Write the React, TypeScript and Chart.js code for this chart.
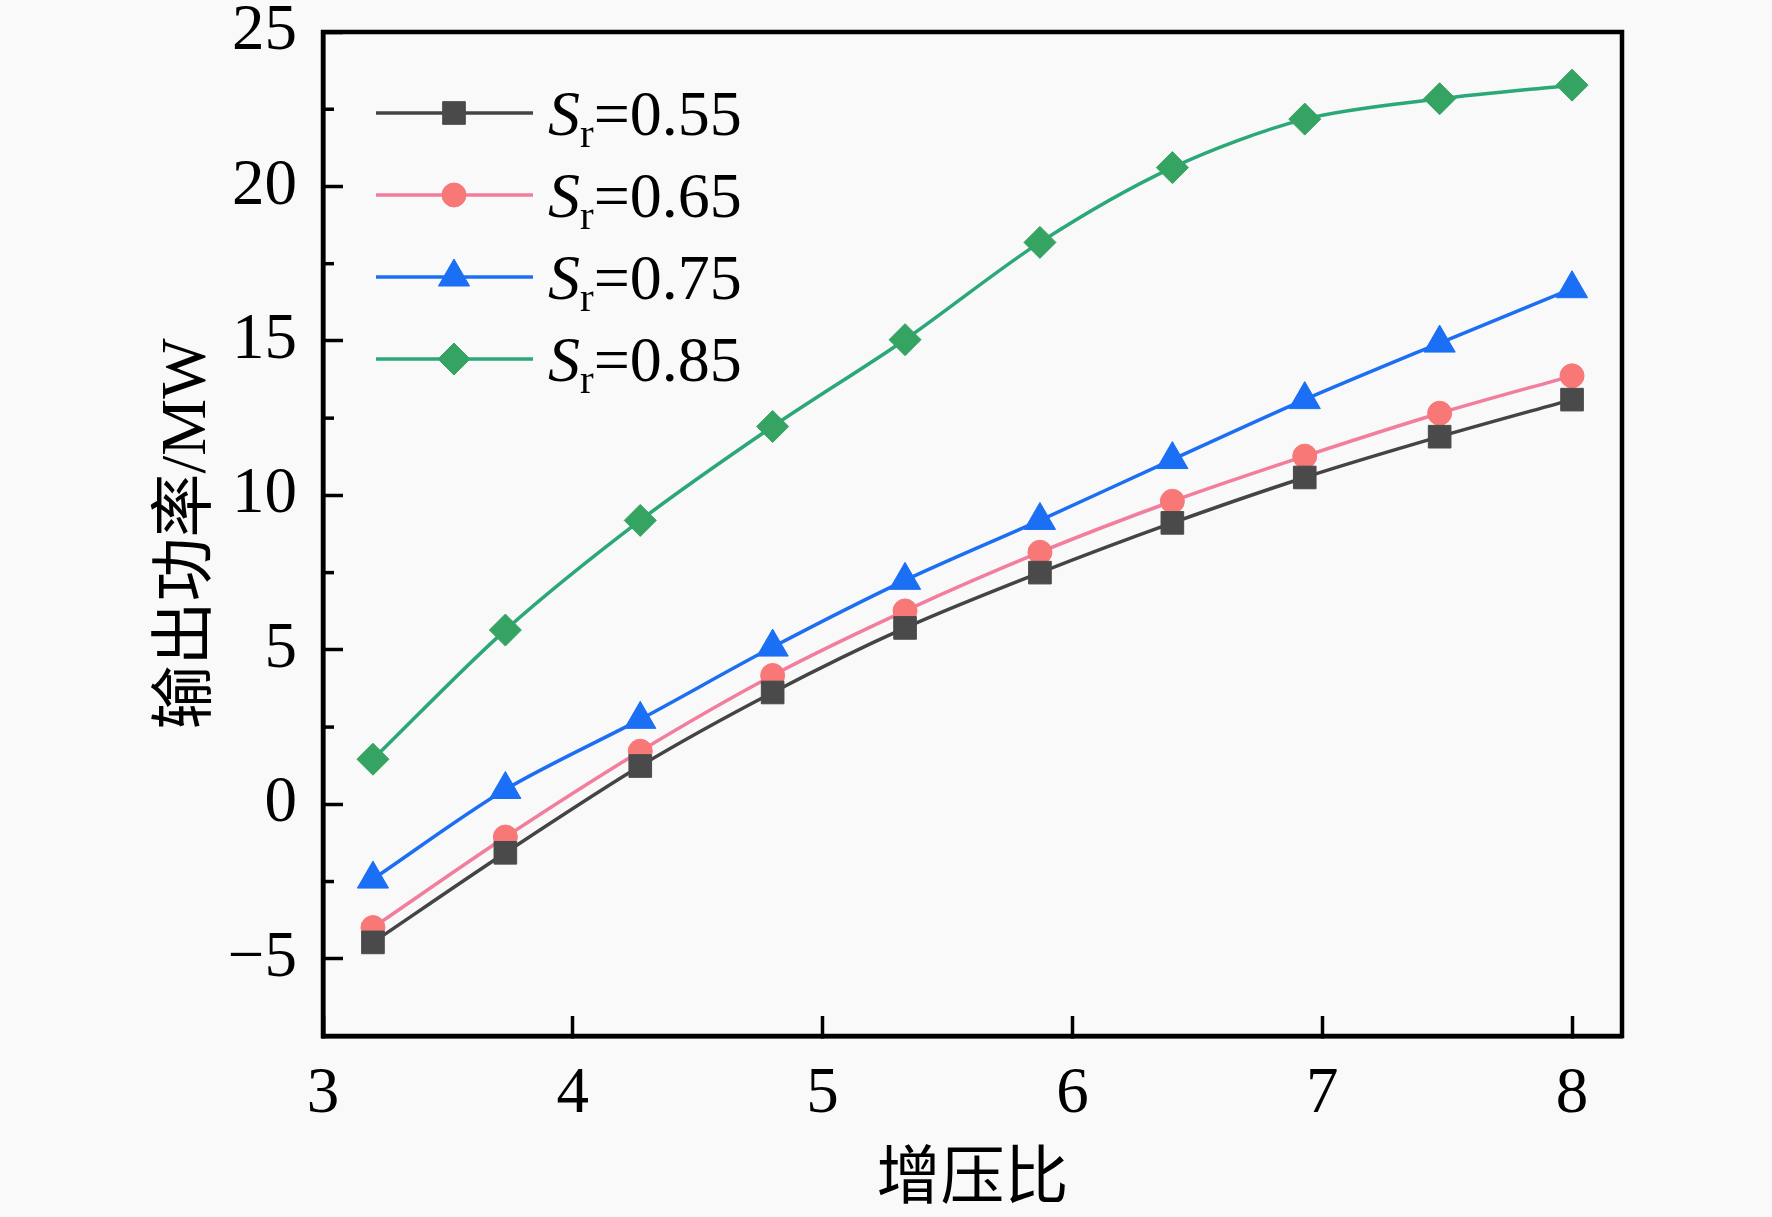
import { useEffect, useRef } from 'react';
import { Chart, registerables } from 'chart.js';
import { drawPoint } from 'chart.js/helpers';

Chart.register(...registerables);

const W = 1772;
const H = 1217;

// pressure ratio (x) and output power in MW per Sr value
const boostRatio = [3.2, 3.73, 4.27, 4.8, 5.33, 5.87, 6.4, 6.93, 7.47, 8.0];
const power055 = [-4.47, -1.57, 1.24, 3.62, 5.71, 7.5, 9.11, 10.58, 11.9, 13.1];
const power065 = [-3.99, -1.06, 1.72, 4.17, 6.26, 8.16, 9.81, 11.27, 12.66, 13.87];
const power075 = [-2.42, 0.48, 2.75, 5.09, 7.25, 9.19, 11.16, 13.1, 14.93, 16.69];
const power085 = [1.46, 5.64, 9.19, 12.23, 15.04, 18.19, 20.61, 22.18, 22.84, 23.28];
const srLabels = ['0.55', '0.65', '0.75', '0.85'];

const xTicks = [3, 4, 5, 6, 7, 8];
const yTicks = [-5, 0, 5, 10, 15, 20, 25];
const yMinorTicks = [-2.5, 2.5, 7.5, 12.5, 17.5, 22.5];

const SERIF = '"Liberation Serif", "Times New Roman", "Noto Sans CJK SC", serif';

const seriesStyle = [
  { line: '#444444', marker: '#4a4a4a', style: 'rect', radius: 16 },
  { line: '#f27d9c', marker: '#f87878', style: 'circle', radius: 12 },
  { line: '#1c6ff2', marker: '#1a6ff5', style: 'triangle', radius: 18 },
  { line: '#2aa877', marker: '#35a463', style: 'rectRot', radius: 16 },
];

const frame = {
  id: 'frame',
  beforeDraw(chart: any) {
    const { ctx } = chart;
    ctx.save();
    ctx.fillStyle = '#f9f9f9';
    ctx.fillRect(0, 0, chart.width, chart.height);
    ctx.restore();
  },
  afterDraw(chart: any) {
    const { ctx, chartArea } = chart;
    const y = chart.scales.y;
    ctx.save();
    ctx.strokeStyle = '#000';
    ctx.lineWidth = 4.5;
    ctx.strokeRect(chartArea.left, chartArea.top, chartArea.right - chartArea.left, chartArea.bottom - chartArea.top);

    // minor ticks on the left axis
    ctx.lineWidth = 3.5;
    for (const v of yMinorTicks) {
      const py = y.getPixelForValue(v);
      ctx.beginPath();
      ctx.moveTo(chartArea.left, py);
      ctx.lineTo(chartArea.left + 11, py);
      ctx.stroke();
    }

    // legend
    chart.data.datasets.forEach((ds: any, i: number) => {
      const ly = 113 + i * 82;
      const s = seriesStyle[i];
      ctx.strokeStyle = s.line;
      ctx.lineWidth = 3.5;
      ctx.beginPath();
      ctx.moveTo(376, ly);
      ctx.lineTo(533, ly);
      ctx.stroke();
      ctx.fillStyle = s.marker;
      ctx.strokeStyle = s.marker;
      ctx.lineWidth = 1;
      drawPoint(ctx, { pointStyle: s.style, radius: s.radius, borderWidth: 1, rotation: 0 } as any, 454, ly);

      const base = ly + 22;
      let x = 548;
      ctx.fillStyle = '#000';
      ctx.textBaseline = 'alphabetic';
      ctx.textAlign = 'left';
      ctx.font = `italic 64px ${SERIF}`;
      ctx.fillText('S', x, base);
      x += ctx.measureText('S').width;
      ctx.font = `41px ${SERIF}`;
      ctx.fillText('r', x, base + 12);
      x += ctx.measureText('r').width;
      ctx.font = `64px ${SERIF}`;
      ctx.fillText('=' + srLabels[i], x, base);
    });
    ctx.restore();
  },
};

export default function App() {
  const canvasRef = useRef<HTMLCanvasElement>(null);
  const chartRef = useRef<Chart | null>(null);

  useEffect(() => {
    if (!canvasRef.current) return;
    if (chartRef.current) chartRef.current.destroy();
    const ctx = canvasRef.current.getContext('2d');
    if (!ctx) return;

    const series = [power055, power065, power075, power085];

    chartRef.current = new Chart(ctx, {
      type: 'line',
      data: {
        datasets: series.map((vals, i) => ({
          label: 'Sr=' + srLabels[i],
          data: boostRatio.map((x, j) => ({ x, y: vals[j] })),
          borderColor: seriesStyle[i].line,
          borderWidth: 3.5,
          pointStyle: seriesStyle[i].style as any,
          pointRadius: seriesStyle[i].radius,
          pointBackgroundColor: seriesStyle[i].marker,
          pointBorderColor: seriesStyle[i].marker,
          pointBorderWidth: 1,
          tension: 0.3,
          fill: false,
        })),
      },
      options: {
        responsive: false,
        animation: false,
        devicePixelRatio: 1,
        layout: { padding: { top: 32, right: 150, left: 0, bottom: 0 } },
        plugins: {
          legend: { display: false },
          tooltip: { enabled: false },
        },
        scales: {
          x: {
            type: 'linear',
            min: 3,
            max: 8.2,
            afterBuildTicks: (scale: any) => {
              scale.ticks = xTicks.map((v) => ({ value: v }));
            },
            afterFit: (scale: any) => {
              scale.height = 181;
              scale.paddingLeft = 0;
              scale.paddingRight = 0;
            },
            grid: {
              drawOnChartArea: false,
              drawTicks: true,
              tickLength: -20,
              tickWidth: 3.5,
              tickColor: '#000',
            },
            border: { display: true, color: '#000', width: 4.5 },
            ticks: {
              color: '#000',
              padding: 46,
              font: { family: SERIF, size: 65, lineHeight: 1 },
              maxRotation: 0,
            },
            title: {
              display: true,
              text: '增压比',
              color: '#000',
              font: { family: SERIF, size: 64, lineHeight: 1.1 },
              padding: { top: 0, bottom: 1 },
            },
          },
          y: {
            type: 'linear',
            min: -7.5,
            max: 25,
            afterBuildTicks: (scale: any) => {
              scale.ticks = yTicks.map((v) => ({ value: v }));
            },
            afterFit: (scale: any) => {
              scale.width = 323;
              scale.paddingTop = 0;
              scale.paddingBottom = 0;
            },
            grid: {
              drawOnChartArea: false,
              drawTicks: true,
              tickLength: -20,
              tickWidth: 3.5,
              tickColor: '#000',
            },
            border: { display: true, color: '#000', width: 4.5 },
            ticks: {
              color: '#000',
              padding: 46,
              font: { family: SERIF, size: 65, lineHeight: 1 },
              callback: (v: any) => (v < 0 ? '\u2212' + Math.abs(v) : String(v)),
            },
            title: {
              display: true,
              text: '输出功率/MW',
              color: '#000',
              font: { family: SERIF, size: 64, lineHeight: 1.2 },
              padding: { top: 150, bottom: 0 },
            },
          },
        },
      },
      plugins: [frame],
    });

    return () => {
      if (chartRef.current) {
        chartRef.current.destroy();
        chartRef.current = null;
      }
    };
  }, []);

  return (
    <div style={{ position: 'fixed', left: 0, top: 0, width: W, height: H }}>
      <canvas ref={canvasRef} width={W} height={H} style={{ display: 'block', width: W, height: H }} />
    </div>
  );
}
